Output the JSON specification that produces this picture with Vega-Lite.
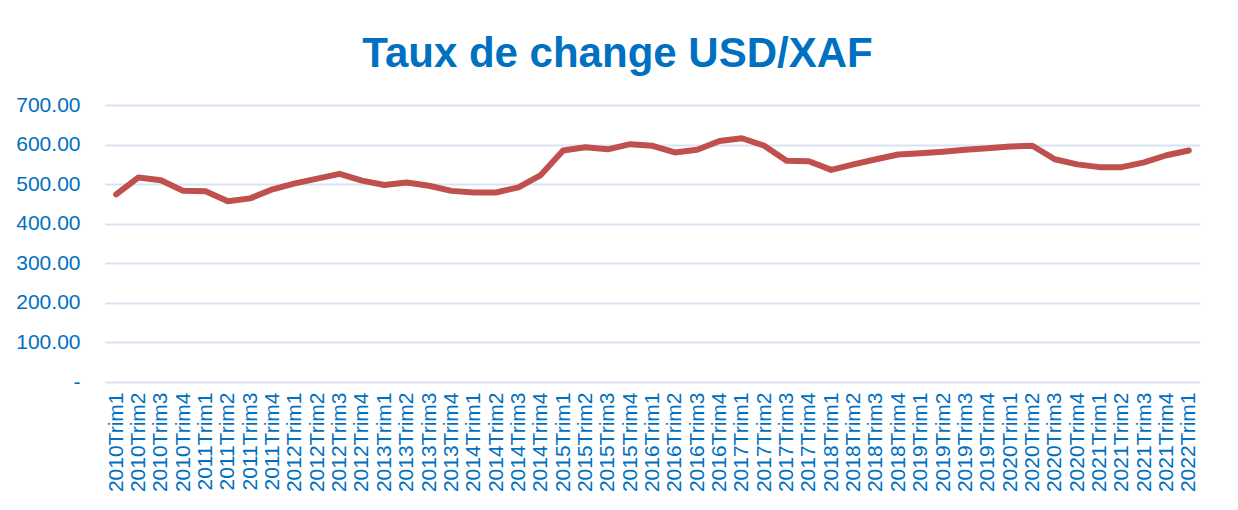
{
  "$schema": "https://vega.github.io/schema/vega-lite/v6.json",
  "autosize": {"type": "none"},
  "width": 1095,
  "height": 277,
  "padding": {"left": 105, "top": 105, "right": 38, "bottom": 128},
  "background": "white",
  "title": {
    "text": "Taux de change USD/XAF",
    "anchor": "middle",
    "frame": "group",
    "dx": -35,
    "offset": 18,
    "font": "Liberation Sans",
    "fontSize": 42,
    "fontWeight": "bold",
    "color": "#0070C0"
  },
  "config": {
    "view": {"stroke": null},
    "axis": {
      "labelFont": "Liberation Sans",
      "labelColor": "#0070C0",
      "domain": false,
      "ticks": false
    }
  },
  "data": {
    "values": [
      {"period": "2010Trim1", "value": 474},
      {"period": "2010Trim2", "value": 517},
      {"period": "2010Trim3", "value": 510},
      {"period": "2010Trim4", "value": 483},
      {"period": "2011Trim1", "value": 482},
      {"period": "2011Trim2", "value": 457},
      {"period": "2011Trim3", "value": 464},
      {"period": "2011Trim4", "value": 487},
      {"period": "2012Trim1", "value": 502},
      {"period": "2012Trim2", "value": 514},
      {"period": "2012Trim3", "value": 526},
      {"period": "2012Trim4", "value": 509},
      {"period": "2013Trim1", "value": 498},
      {"period": "2013Trim2", "value": 504},
      {"period": "2013Trim3", "value": 496},
      {"period": "2013Trim4", "value": 483},
      {"period": "2014Trim1", "value": 479},
      {"period": "2014Trim2", "value": 479},
      {"period": "2014Trim3", "value": 492},
      {"period": "2014Trim4", "value": 523},
      {"period": "2015Trim1", "value": 585},
      {"period": "2015Trim2", "value": 593},
      {"period": "2015Trim3", "value": 588},
      {"period": "2015Trim4", "value": 601},
      {"period": "2016Trim1", "value": 597},
      {"period": "2016Trim2", "value": 580},
      {"period": "2016Trim3", "value": 587},
      {"period": "2016Trim4", "value": 609},
      {"period": "2017Trim1", "value": 616},
      {"period": "2017Trim2", "value": 597},
      {"period": "2017Trim3", "value": 559},
      {"period": "2017Trim4", "value": 558},
      {"period": "2018Trim1", "value": 536},
      {"period": "2018Trim2", "value": 550},
      {"period": "2018Trim3", "value": 563},
      {"period": "2018Trim4", "value": 575},
      {"period": "2019Trim1", "value": 578},
      {"period": "2019Trim2", "value": 582},
      {"period": "2019Trim3", "value": 587},
      {"period": "2019Trim4", "value": 591},
      {"period": "2020Trim1", "value": 595},
      {"period": "2020Trim2", "value": 597},
      {"period": "2020Trim3", "value": 563},
      {"period": "2020Trim4", "value": 550},
      {"period": "2021Trim1", "value": 543},
      {"period": "2021Trim2", "value": 543},
      {"period": "2021Trim3", "value": 555},
      {"period": "2021Trim4", "value": 573},
      {"period": "2022Trim1", "value": 585}
    ]
  },
  "mark": {"type": "line", "color": "#C0504D", "strokeWidth": 6, "strokeCap": "round", "strokeJoin": "round"},
  "encoding": {
    "x": {
      "field": "period",
      "type": "ordinal",
      "sort": null,
      "scale": {"type": "point", "padding": 0.5},
      "axis": {
        "title": null,
        "labelAngle": -90,
        "labelFontSize": 21,
        "labelPadding": 10,
        "grid": false
      }
    },
    "y": {
      "field": "value",
      "type": "quantitative",
      "scale": {"domain": [0, 700], "nice": false, "zero": true},
      "axis": {
        "title": null,
        "values": [0, 100, 200, 300, 400, 500, 600, 700],
        "labelExpr": "datum.value == 0 ? '-\u00a0\u00a0' : format(datum.value, '.2f')",
        "labelFontSize": 21,
        "labelPadding": 25,
        "grid": true,
        "gridColor": "#D9E4F2",
        "gridWidth": 2
      }
    }
  }
}
